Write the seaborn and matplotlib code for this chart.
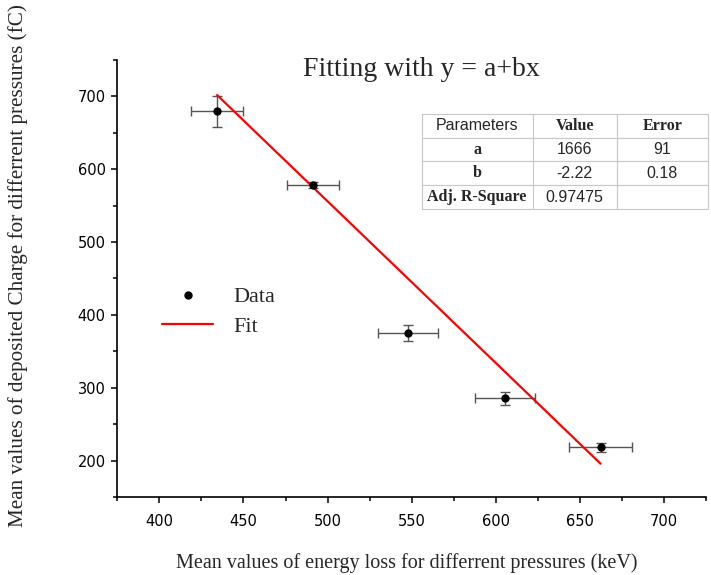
import matplotlib
matplotlib.use("Agg")
import matplotlib.pyplot as plt
import seaborn as sns
import numpy as np
import pandas as pd
from matplotlib.lines import Line2D
from matplotlib.ticker import MultipleLocator

# Measured points: mean energy loss (keV) vs. mean deposited charge (fC)
energy_loss = [434.3, 491.4, 548.0, 605.5, 662.3]
charge = [679.5, 578.0, 375.0, 285.3, 218.0]
energy_err = [15.3, 15.5, 17.8, 17.8, 18.7]
charge_err = [21.0, 4.0, 11.4, 9.0, 5.7]

# Linear fit y = a + b x
fit_a = 1666
fit_b = -2.22
fit_a_err = 91
fit_b_err = 0.18
adj_r2 = 0.97475

x_ticks = [400, 450, 500, 550, 600, 650, 700]
y_ticks = [200, 300, 400, 500, 600, 700]

sns.set_style("ticks")
SERIF = ["Liberation Serif", "DejaVu Serif"]
SANS = ["DejaVu Sans"]
TABLE_SANS = ["Liberation Sans", "DejaVu Sans"]
plt.rcParams["font.family"] = SANS

df = pd.DataFrame({"energy": energy_loss, "charge": charge})
fit_x = np.array([min(energy_loss), max(energy_loss)])
fit_df = pd.DataFrame({"energy": fit_x, "charge": fit_a + fit_b * fit_x})

fig = plt.figure(figsize=(7.11, 5.75), dpi=100)
ax = fig.add_axes([0.165, 0.1357, 0.828, 0.76])

ax.errorbar(energy_loss, charge, xerr=energy_err, yerr=charge_err, fmt="none",
            ecolor="#555555", elinewidth=1.0, capsize=3.5, capthick=1.0, zorder=2)
sns.lineplot(data=fit_df, x="energy", y="charge", color="#ff0000", linewidth=1.6,
             ax=ax, zorder=3, legend=False)
sns.scatterplot(data=df, x="energy", y="charge", color="black", s=36,
                edgecolor="black", linewidth=0, ax=ax, zorder=4, legend=False)

ax.set_xlim(375, 725)
ax.set_ylim(150, 750)
ax.set_xticks(x_ticks)
ax.set_yticks(y_ticks)
ax.xaxis.set_minor_locator(MultipleLocator(25))
ax.yaxis.set_minor_locator(MultipleLocator(50))
ax.tick_params(which="major", direction="out", length=4.5, width=1.1, labelsize=10.5,
               color="black", labelcolor="black")
ax.tick_params(axis="x", which="major", pad=8)
ax.tick_params(axis="y", which="major", pad=4)
ax.tick_params(which="minor", direction="out", length=3.2, width=1.1, color="black")

for side in ["top", "right"]:
    ax.spines[side].set_visible(False)
for side in ["left", "bottom"]:
    ax.spines[side].set_linewidth(1.2)
    ax.spines[side].set_color("black")

ax.set_xlabel("Mean values of energy loss for differrent pressures (keV)",
              family=SERIF, fontsize=14.5)
ax.xaxis.set_label_coords(0.492, -0.128)
ax.set_ylabel("Mean values of deposited Charge for differrent pressures (fC)",
              family=SERIF, fontsize=15.2)
ax.yaxis.set_label_coords(-0.152, 0.5286)

fig.text(421.5 / 711, 1 - 69 / 575, "Fitting with y = a+bx", family=SERIF,
         fontsize=20, ha="center", va="center")

# Legend
handles = [
    Line2D([], [], linestyle="none", marker="o", markersize=5, color="black"),
    Line2D([], [], color="#ff0000", linewidth=1.6),
]
leg = ax.legend(handles, ["Data", "Fit"], loc="upper left",
                bbox_to_anchor=(0.076, 0.481), frameon=False, borderpad=0,
                borderaxespad=0, handlelength=2.3, handletextpad=0.9,
                labelspacing=0.42, prop={"family": SERIF, "size": 16})

# Parameter table
cells = [
    ["Parameters", "Value", "Error"],
    ["a", f"{fit_a}", f"{fit_a_err}"],
    ["b", f"{fit_b:.2f}", f"{fit_b_err:.2f}"],
    ["Adj. R-Square", f"{adj_r2:.5f}", ""],
]
col_w = np.array([111, 84, 91.3])
tbl = ax.table(cellText=cells, cellLoc="center", colWidths=list(col_w / col_w.sum()),
               bbox=[0.517, 0.659, 0.486, 0.2174], zorder=5)
tbl.auto_set_font_size(False)
for (r, c), cell in tbl.get_celld().items():
    cell.set_edgecolor("#c8c8c8")
    cell.set_linewidth(0.8)
    cell.set_facecolor("white")
    txt = cell.get_text()
    txt.set_fontsize(11.5)
    if (r == 0 and c > 0) or (r > 0 and c == 0):
        txt.set_family(SERIF)
        txt.set_fontweight("bold")
    else:
        txt.set_family(TABLE_SANS)

fig.savefig("out.png", dpi=100)
